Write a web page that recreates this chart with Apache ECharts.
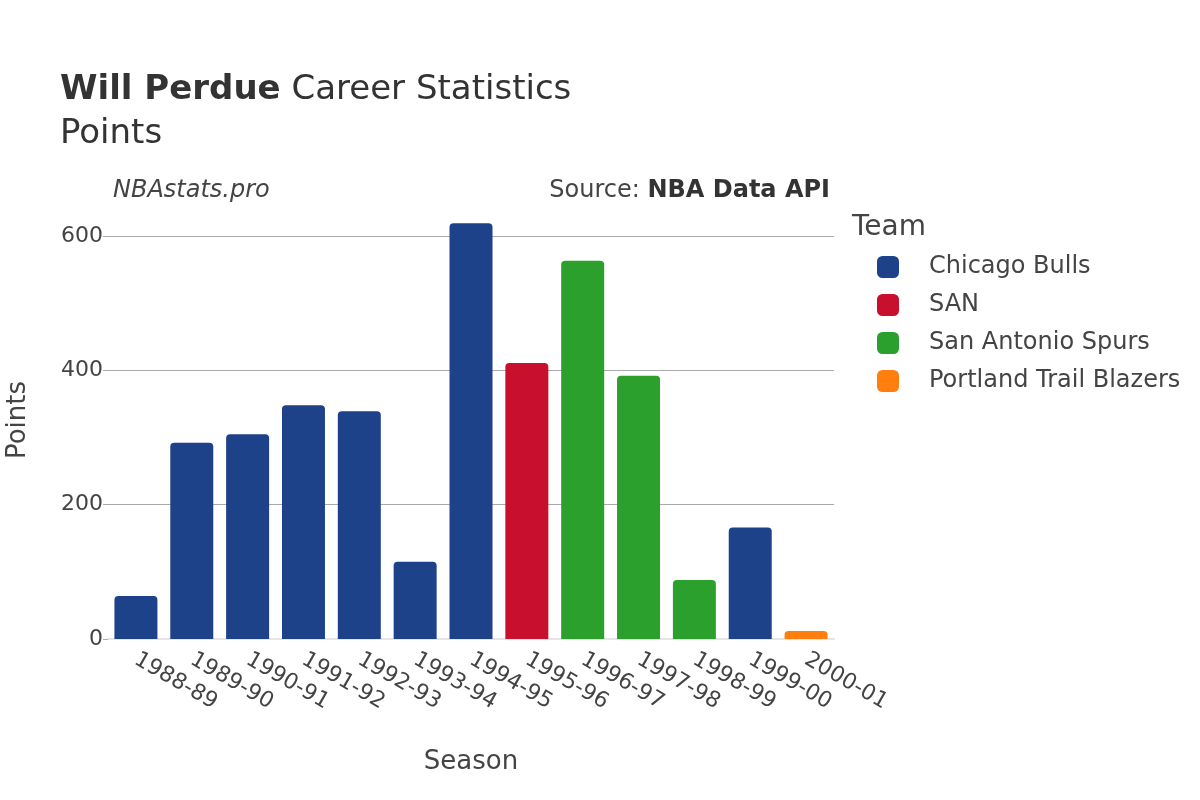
<!DOCTYPE html>
<html><head><meta charset="utf-8">
<script src="https://cdn.jsdelivr.net/npm/echarts@6/dist/echarts.min.js"></script>
<style>html,body{margin:0;padding:0;background:#fff}#c{width:1200px;height:800px}</style>
</head><body><div id="c"></div>
<script>
const seasons = ["1988-89","1989-90","1990-91","1991-92","1992-93","1993-94","1994-95","1995-96","1996-97","1997-98","1998-99","1999-00","2000-01"];
const teamOfSeason = ["Chicago Bulls","Chicago Bulls","Chicago Bulls","Chicago Bulls","Chicago Bulls","Chicago Bulls","Chicago Bulls","SAN","San Antonio Spurs","San Antonio Spurs","San Antonio Spurs","Chicago Bulls","Portland Trail Blazers"];
const points = [64, 292, 305, 348, 339, 115, 619, 411, 563, 392, 88, 166, 12];
const teams = ["Chicago Bulls","SAN","San Antonio Spurs","Portland Trail Blazers"];
const teamColors = ["#1D428A","#C8102E","#2CA02C","#FF7F0E"];
const yTicks = [0, 200, 400, 600];

const FONT = "DejaVu Sans";
const chart = echarts.init(document.getElementById('c'), null, {renderer:'canvas'});
const series = teams.map((t, i) => ({
  name: t,
  type: 'bar',
  stack: 'all',
  clip: false,
  barWidth: 43,
  itemStyle: {color: teamColors[i], borderRadius: [4,4,0,0]},
  data: points.map((v, j) => teamOfSeason[j] === t ? v : null)
}));
chart.setOption({
  animation: false,
  textStyle: {fontFamily: FONT},
  title: {
    left: 60, top: 68, padding: 0,
    text: '{b|Will Perdue}{n| Career Statistics}\n{n|Points}',
    textStyle: {rich: {
      b: {fontFamily: FONT, fontSize: 34, fontWeight: 'bold', color: '#333', lineHeight: 44},
      n: {fontFamily: FONT, fontSize: 34, fontWeight: 'normal', color: '#333', lineHeight: 44}
    }}
  },
  legend: {
    orient: 'vertical', left: 877, top: 255, padding: 0,
    itemWidth: 22, itemHeight: 22, itemGap: 14, icon: 'roundRect',
    textStyle: {fontFamily: FONT, fontSize: 24, color: '#444', padding: [0,0,0,25]},
    data: teams
  },
  graphic: [
    {type:'text', left: 852, top: 214, style:{text:'Team', font:'28px "DejaVu Sans"', fill:'#444'}},
    {type:'text', left: 113, top: 179, style:{text:'NBAstats.pro', font:'italic 24px "DejaVu Sans"', fill:'#444'}},
    {type:'text', right: 370, top: 179, style:{text:'{a|Source: }{b|NBA Data API}', rich:{a:{font:'24px "DejaVu Sans"', fill:'#444'}, b:{font:'bold 24px "DejaVu Sans"', fill:'#333'}}}},
    {type:'text', x: 18, y: 420, rotation: Math.PI/2, style:{text:'Points', font:'26px "DejaVu Sans"', fill:'#444', align:'center', verticalAlign:'middle'}}
  ],
  grid: {left: 108, right: 366, top: 236, bottom: 161, containLabel: false},
  xAxis: {
    type: 'category', data: seasons,
    name: 'Season', nameLocation: 'middle', nameGap: 110,
    nameTextStyle: {fontFamily: FONT, fontSize: 26, color: '#444'},
    axisLine: {show: true, lineStyle: {color: '#e5e5e5', width: 2}},
    axisTick: {show: false},
    axisLabel: {rotate: -30, fontFamily: FONT, fontSize: 22, color: '#444', margin: 19, interval: 0}
  },
  yAxis: {
    type: 'value', min: 0, max: 600, interval: 200,
    axisLine: {show: false},
    axisTick: {show: true, length: 5, lineStyle: {color: '#aaaaaa'}},
    axisLabel: {fontFamily: FONT, fontSize: 22, color: '#444', margin: 5},
    splitLine: {lineStyle: {color: '#aaaaaa', width: 1}}
  },
  series: series
});
</script></body></html>
